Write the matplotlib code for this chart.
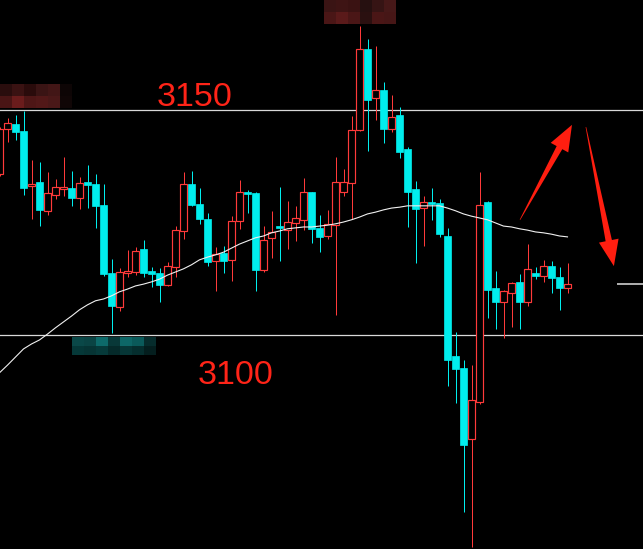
import numpy as np
import matplotlib
matplotlib.use('Agg')
import matplotlib.pyplot as plt
from matplotlib.patches import Rectangle, Polygon
from matplotlib.transforms import IdentityTransform

# K线数据 (open, high, low, close)
opens = [3135.8, 3145.8, 3146.9, 3145.3, 3133.1, 3134.0, 3127.6, 3131.1, 3132.4, 3132.7,
         3130.4, 3134.0, 3133.6, 3128.9, 3113.8, 3106.2, 3113.8, 3114.0, 3119.1, 3114.2,
         3113.8, 3111.1, 3115.1, 3123.1, 3133.6, 3129.1, 3125.8, 3116.4, 3118.2, 3116.7,
         3125.3, 3131.8, 3131.6, 3114.4, 3121.6, 3124.2, 3123.3, 3124.9, 3125.6, 3131.8,
         3123.8, 3122.0, 3124.4, 3131.8, 3133.8, 3145.6, 3163.6, 3152.7, 3154.4, 3145.8,
         3148.9, 3141.3, 3132.4, 3128.2, 3129.6, 3129.3, 3122.0, 3095.3, 3092.7, 3076.9,
         3085.1, 3129.6, 3110.4, 3107.3, 3109.3, 3111.8, 3107.3, 3113.8, 3113.1, 3115.3,
         3112.9, 3110.4]
highs = [3146.2, 3148.2, 3148.9, 3149.8, 3138.9, 3138.4, 3136.2, 3134.7, 3139.6, 3136.4,
         3135.1, 3137.8, 3135.8, 3133.6, 3116.9, 3114.9, 3118.9, 3119.6, 3121.1, 3115.1,
         3114.9, 3116.2, 3124.2, 3136.2, 3136.4, 3132.7, 3127.1, 3119.6, 3119.8, 3126.4,
         3134.4, 3132.2, 3131.8, 3124.2, 3127.6, 3132.9, 3129.8, 3128.7, 3134.9, 3131.8,
         3126.7, 3127.8, 3139.6, 3136.9, 3148.7, 3168.7, 3165.8, 3164.2, 3156.2, 3153.3,
         3150.7, 3141.8, 3134.2, 3130.9, 3132.7, 3130.2, 3123.8, 3100.7, 3094.4, 3093.3,
         3136.2, 3129.8, 3114.2, 3110.0, 3111.8, 3113.6, 3120.2, 3115.1, 3116.7, 3116.4,
         3115.1, 3116.0]
lows = [3135.3, 3142.9, 3143.3, 3131.1, 3125.8, 3124.2, 3126.7, 3130.2, 3130.9, 3128.7,
        3128.0, 3128.2, 3123.8, 3113.1, 3100.4, 3105.3, 3112.9, 3113.3, 3112.9, 3110.7,
        3107.3, 3110.9, 3112.9, 3121.3, 3128.7, 3124.7, 3115.3, 3109.8, 3113.8, 3112.0,
        3123.6, 3127.1, 3109.8, 3114.0, 3117.1, 3116.4, 3119.1, 3120.9, 3123.3, 3120.4,
        3118.4, 3121.3, 3104.4, 3130.9, 3125.8, 3145.3, 3140.9, 3147.8, 3142.7, 3145.1,
        3139.3, 3124.0, 3116.0, 3119.8, 3125.6, 3121.8, 3088.7, 3084.9, 3060.7, 3052.9,
        3084.7, 3103.8, 3101.3, 3099.3, 3101.8, 3101.3, 3106.4, 3112.4, 3111.8, 3109.3,
        3105.6, 3109.3]
closes = [3145.8, 3147.1, 3145.1, 3132.7, 3133.6, 3127.8, 3131.6, 3132.9, 3132.9, 3130.4,
          3133.8, 3133.3, 3128.7, 3113.6, 3106.4, 3114.0, 3114.2, 3118.7, 3113.8, 3113.6,
          3111.1, 3115.3, 3123.3, 3133.6, 3128.9, 3125.8, 3116.2, 3118.0, 3116.4, 3125.3,
          3131.8, 3131.3, 3114.4, 3121.1, 3122.9, 3123.8, 3125.1, 3126.0, 3131.8, 3123.6,
          3121.8, 3124.7, 3134.0, 3134.0, 3145.6, 3163.6, 3152.2, 3154.4, 3145.8, 3148.4,
          3140.7, 3131.8, 3128.0, 3129.6, 3129.1, 3122.4, 3094.4, 3092.4, 3075.6, 3085.6,
          3128.9, 3110.0, 3107.3, 3109.8, 3111.6, 3107.3, 3114.7, 3113.1, 3115.3, 3112.7,
          3110.4, 3111.3]
# 均线
ma = [3091.6, 3093.3, 3095.1, 3096.9, 3098.0, 3098.9, 3100.2, 3101.6, 3102.9, 3104.2,
      3105.6, 3106.7, 3107.6, 3108.0, 3108.7, 3109.6, 3110.2, 3110.9, 3111.3, 3111.8,
      3112.4, 3113.3, 3114.0, 3114.7, 3115.6, 3116.7, 3117.3, 3117.8, 3118.4, 3119.3,
      3120.2, 3120.9, 3121.6, 3122.0, 3122.7, 3123.1, 3123.6, 3123.8, 3124.0, 3124.0,
      3124.2, 3124.4, 3124.7, 3125.1, 3125.6, 3126.2, 3126.9, 3127.3, 3127.8, 3128.2,
      3128.4, 3128.7, 3128.7, 3128.7, 3128.7, 3128.7, 3128.2, 3127.6, 3126.9, 3126.4,
      3126.0, 3125.6, 3124.9, 3124.2, 3124.0, 3123.6, 3123.3, 3122.9, 3122.7, 3122.4,
      3122.0, 3121.8]
levels = [3150, 3100]
last_price = 3111.3

UP = '#ff3a3a'
DOWN = '#00eeee'
TXT = '#ff2418'

fig = plt.figure(figsize=(6.43, 5.49), dpi=100, facecolor='black')
ax = fig.add_axes([0, 0, 1, 1])
ax.set_facecolor('black')
ax.set_xlim(0.0625, 80.4375)
ax.set_ylim(3052.44, 3174.44)
ax.axis('off')

px = 0.72  # 1 pixel in points
w = 0.78

for i in range(len(opens)):
    o, h, l, c = opens[i], highs[i], lows[i], closes[i]
    top, bot = max(o, c), min(o, c)
    if c > o:
        ax.vlines(i, top, h, color=UP, lw=px, zorder=2)
        ax.vlines(i, l, bot, color=UP, lw=px, zorder=2)
        ax.add_patch(Rectangle((i - w / 2, bot), w, max(top - bot, 0.3),
                               facecolor='black', edgecolor=UP, lw=0.85, zorder=3))
    else:
        ax.vlines(i, l, h, color=DOWN, lw=px, zorder=2)
        ax.add_patch(Rectangle((i - w / 2, bot), w, max(top - bot, 0.5),
                               facecolor=DOWN, edgecolor=DOWN, lw=0.5, zorder=3))

ax.plot(range(len(ma)), ma, color='#f0f0f0', lw=0.8, zorder=4)

for lv in levels:
    ax.axhline(lv, color='#d9d9d9', lw=0.9, zorder=1)

ax.hlines(last_price, 77.2, 80.5, color='#e0e0e0', lw=1.1, zorder=1)

font = ['Liberation Sans', 'DejaVu Sans']
ax.text(19.7, 3150.8, '3150', color=TXT, fontsize=24.5, family=font, ha='left', va='baseline')
ax.text(24.8, 3089.2, '3100', color=TXT, fontsize=24.5, family=font, ha='left', va='baseline')


def tapered_arrow(p0, p1, color):
    # 尾部细、头部三角的箭头 (display 坐标)
    a = ax.transData.transform(p0)
    b = ax.transData.transform(p1)
    d = b - a
    L = np.hypot(*d)
    u = d / L
    n = np.array([-u[1], u[0]])
    head_len, head_w, shaft_w = 26, 10, 3.2
    base = b - u * head_len
    pts = [a + n * 0.3, base + n * shaft_w, base + n * head_w, b,
           base - n * head_w, base - n * shaft_w, a - n * 0.3]
    fig.patches.append(Polygon(pts, closed=True, facecolor=color, edgecolor='none',
                               transform=IdentityTransform(), figure=fig))


fig.canvas.draw()
tapered_arrow((65.06, 3125.6), (71.56, 3146.7), '#ff1e10')
tapered_arrow((73.3, 3146.2), (76.8, 3115.3), '#ff1e10')

# 马赛克遮挡块
def mosaic(colors, bw, bh, x0, ytop):
    arr = np.array([[matplotlib.colors.to_rgb(c) for c in row] for row in colors])
    img = np.kron(arr, np.ones((bh, bw, 1)))
    H = img.shape[0]
    fig.figimage(img, xo=x0, yo=549 - ytop - H, origin='upper', zorder=5)


mosaic([['#2a0d0d', '#3a1212', '#2a0b0b', '#3a1414', '#421616', '#0d0505'],
        ['#4a1515', '#6a1c1c', '#4e1616', '#521818', '#4a1818', '#100606']], 12, 12, 0, 84)
mosaic([['#3a1414', '#3e1414', '#3a1212', '#261010', '#361414', '#461818'],
        ['#4a1616', '#5a1a1a', '#4a1616', '#2a1010', '#4a1616', '#461616']], 12, 12, 324, 0)
mosaic([['#0a4848', '#0a4444', '#0d6a6a', '#083838', '#0d6666', '#0a5a5a', '#062c2c'],
        ['#053838', '#063434', '#063a3a', '#052a2a', '#063636', '#052e2e', '#041e1e']], 12, 9, 72, 337)

fig.savefig('out.png', dpi=100, facecolor='black')
